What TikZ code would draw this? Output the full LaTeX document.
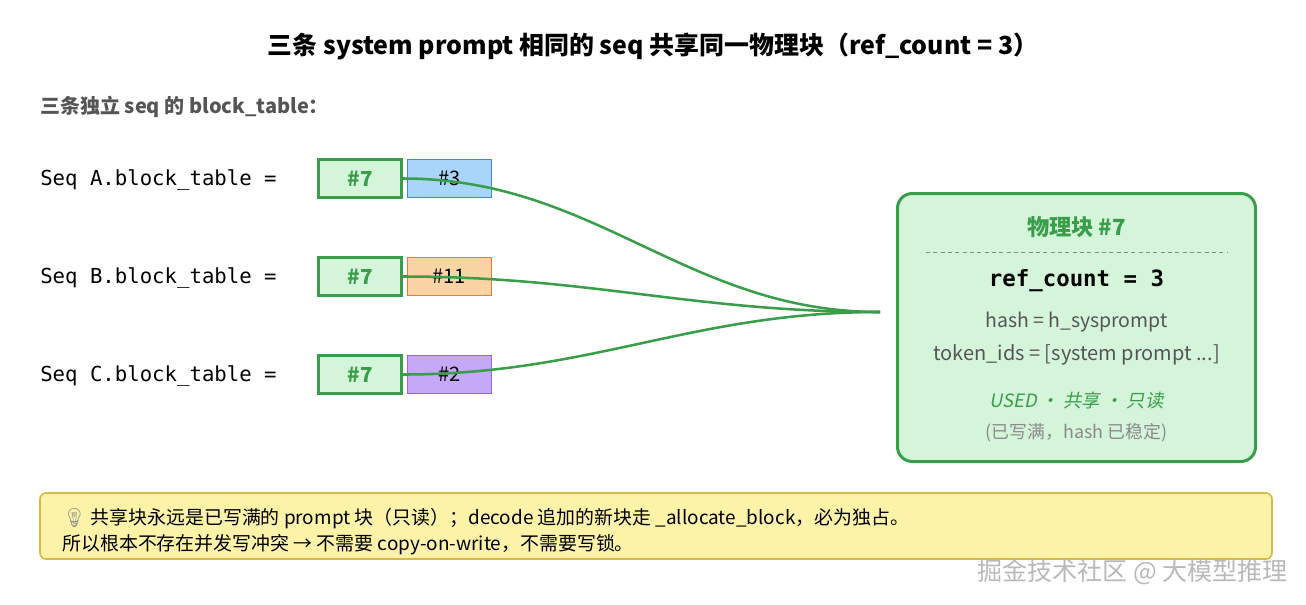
\documentclass[tikz,border=0pt]{standalone}
\usepackage{fontspec}
\setmainfont{Noto Sans CJK SC}
\setsansfont{Noto Sans CJK SC}
\setmonofont{DejaVu Sans Mono}
\newfontfamily\slantcjk{Noto Sans CJK SC}[FakeSlant=0.2]
\newfontfamily\emojifont{Noto Emoji}
\usetikzlibrary{positioning}

\definecolor{usedgreen}{HTML}{3A9D4A}
\definecolor{usedfill}{HTML}{D5F5DA}
\definecolor{blueline}{HTML}{4A86D0}
\definecolor{bluefill}{HTML}{A8D5FA}
\definecolor{orangeline}{HTML}{E8793C}
\definecolor{orangefill}{HTML}{FBD4A5}
\definecolor{purpleline}{HTML}{9B63E0}
\definecolor{purplefill}{HTML}{C5A9F7}
\definecolor{noteline}{HTML}{D8B847}
\definecolor{notefill}{HTML}{FDF3A8}
\definecolor{labelgray}{HTML}{555555}
\definecolor{softgray}{HTML}{8A8A8A}

\begin{document}
\begin{tikzpicture}[x=0.75pt,y=-0.75pt,
  seqlabel/.style={anchor=west,inner sep=0pt,font=\ttfamily\fontsize{15.5}{18}\selectfont},
  shared/.style={draw=usedgreen,fill=usedfill,line width=2.25pt,minimum width=62pt,
    minimum height=28.5pt,inner sep=0pt,text=usedgreen,font=\bfseries\fontsize{15.5}{17}\selectfont},
  cell/.style={line width=0.75pt,minimum width=63pt,minimum height=28.5pt,inner sep=0pt,
    font=\fontsize{15}{16}\selectfont},
  link/.style={draw=usedgreen,line width=1.9pt},
  physblock/.style={draw=usedgreen,fill=usedfill,line width=2.25pt,rounded corners=11pt,
    minimum width=268.5pt,minimum height=201pt},
  note/.style={draw=noteline,fill=notefill,line width=1.2pt,rounded corners=4.5pt,
    minimum width=924pt,minimum height=49.5pt}]
  \useasboundingbox (0,0) rectangle (1306,604);

  \node[font=\bfseries\fontsize{18.7}{22}\selectfont] (title) at (653,46)
    {三条 system prompt 相同的 seq 共享同一物理块（ref\_count = 3）};
  \node[anchor=west,inner sep=0pt,text=labelgray,font=\bfseries\fontsize{15}{18}\selectfont]
    (heading) at (40,107) {三条独立 seq 的 block\_table：};

  % block tables
  \node[seqlabel] (lblA) at (40,180) {Seq A.block\_table =};
  \node[seqlabel] (lblB) at (40,278) {Seq B.block\_table =};
  \node[seqlabel] (lblC) at (40,376) {Seq C.block\_table =};

  \node[shared] (a7) at (360,178.5) {\#7};
  \node[shared] (b7) at (360,276.5) {\#7};
  \node[shared] (c7) at (360,374.5) {\#7};
  \node[cell,draw=blueline,fill=bluefill,right=3pt of a7]     (a3)  {\#3};
  \node[cell,draw=orangeline,fill=orangefill,right=3pt of b7] (b11) {\#11};
  \node[cell,draw=purpleline,fill=purplefill,right=3pt of c7] (c2)  {\#2};

  % physical block
  \node[physblock] (phys) at (1076.5,327.5) {};
  \node[text=usedgreen,font=\bfseries\fontsize{16.7}{18}\selectfont] (physname) at (1076.5,227) {物理块 \#7};
  \draw[softgray,line width=0.6pt,dash pattern=on 3pt off 2.5pt] (926,252) -- (1228,252);
  \node[font=\ttfamily\bfseries\fontsize{16.8}{18}\selectfont] (refcnt) at (1076.5,281) {ref\_count = 3};
  \node[text=labelgray,font=\fontsize{14.6}{16}\selectfont] (hash) at (1076.5,322) {hash = h\_sysprompt};
  \node[text=labelgray,font=\fontsize{15}{16}\selectfont] (tokens) at (1076.5,355) {token\_ids = [system prompt ...]};
  \node[text=usedgreen,font=\slantcjk\fontsize{13.8}{16}\selectfont] (state) at (1076.5,400) {USED · 共享 · 只读};
  \node[text=softgray,font=\fontsize{13.4}{15}\selectfont] (remark) at (1076.5,433) {(已写满，hash 已稳定)};

  \coordinate (hub) at (880,312);
  \draw[link] (a7.east) to[out=0,in=180] (hub);
  \draw[link] (b7.east) to[out=0,in=180] (hub);
  \draw[link] (c7.east) to[out=0,in=180] (hub);

  % note
  \node[note] (tipbox) at (656,526) {};
  \node[anchor=west,inner sep=0pt,align=left,font=\fontsize{14.2}{19.5}\selectfont] (tip) at (62,532)
    {{\emojifont\color{softgray}💡} 共享块永远是已写满的 prompt 块（只读）；decode 追加的新块走 \_allocate\_block，必为独占。\\
     所以根本不存在并发写冲突 → 不需要 copy-on-write，不需要写锁。};

  \node[anchor=east,inner sep=0pt,text=gray!55,font=\fontsize{18.8}{22}\selectfont] (mark) at (1288,572)
    {掘金技术社区 @ 大模型推理};
\end{tikzpicture}
\end{document}
